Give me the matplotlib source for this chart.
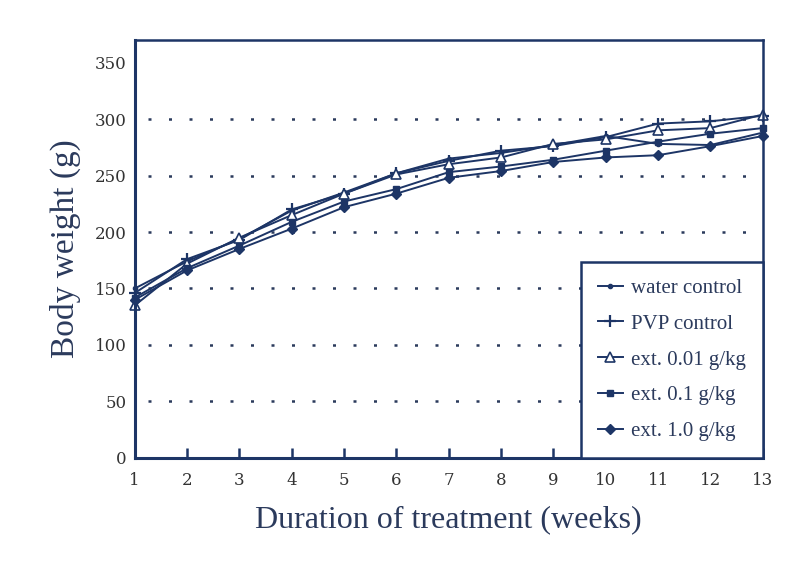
import matplotlib
matplotlib.use("Agg")
import matplotlib.pyplot as plt

weeks = [1, 2, 3, 4, 5, 6, 7, 8, 9, 10, 11, 12, 13]
water_control = [150, 174, 194, 219, 235, 252, 265, 270, 277, 285, 278, 277, 288]
pvp_control = [146, 176, 193, 220, 234, 252, 263, 272, 276, 284, 296, 298, 303]
ext_001 = [135, 172, 195, 215, 234, 251, 260, 266, 278, 282, 290, 292, 304]
ext_01 = [142, 168, 188, 209, 227, 238, 253, 258, 264, 272, 280, 287, 292]
ext_10 = [140, 166, 185, 203, 222, 234, 248, 254, 262, 266, 268, 276, 285]

series_labels = ["water control", "PVP control", "ext. 0.01 g/kg",
                 "ext. 0.1 g/kg", "ext. 1.0 g/kg"]
y_ticks = [0, 50, 100, 150, 200, 250, 300, 350]
grid_levels = [50, 100, 150, 200, 250, 300]

navy = "#1d3566"
ink = "#2b3a5c"

fig = plt.figure(figsize=(7.88, 5.71), dpi=100)
ax = fig.add_axes([0.171, 0.198, 0.797, 0.732])

styles = [
    dict(marker="o", ms=3, mfc=navy, mec=navy),
    dict(marker="+", ms=9, mew=1.6, mec=navy),
    dict(marker="^", ms=7, mfc="white", mec=navy, mew=1.2),
    dict(marker="s", ms=5, mfc=navy, mec=navy),
    dict(marker="D", ms=5, mfc=navy, mec=navy),
]
all_series = [water_control, pvp_control, ext_001, ext_01, ext_10]
for vals, lab, st in zip(all_series, series_labels, styles):
    ax.plot(weeks, vals, color=navy, lw=1.4, label=lab, clip_on=False, **st)

# dotted reference lines
ax.hlines(grid_levels, 1.25, 12.85, colors=ink, linestyles=(0, (1.2, 7)),
          linewidth=1.8, zorder=0)

ax.set_xlim(1, 13)
ax.set_ylim(0, 370)
ax.set_xticks(weeks)
ax.set_yticks(y_ticks)

for s in ["left", "bottom"]:
    ax.spines[s].set_linewidth(2.2)
    ax.spines[s].set_color(navy)
for s in ["top", "right"]:
    ax.spines[s].set_linewidth(1.8)
    ax.spines[s].set_color(navy)

ax.tick_params(axis="x", direction="in", length=7, width=1.8, color=navy,
               pad=10, labelsize=12, labelcolor="#333333")
ax.tick_params(axis="y", length=0, pad=6, labelsize=12, labelcolor="#333333")
for t in ax.get_xticklabels() + ax.get_yticklabels():
    t.set_fontfamily("DejaVu Serif")

ax.set_xlabel("Duration of treatment (weeks)", fontsize=23, color=ink,
              family="Liberation Serif", labelpad=12)
ax.set_ylabel("Body weight (g)", fontsize=24, color=ink,
              family="Liberation Serif", labelpad=10)

leg = ax.legend(loc="lower right", borderaxespad=0, frameon=True, fancybox=False,
                prop={"family": "Liberation Serif", "size": 15},
                handlelength=1.2, handletextpad=0.4, labelspacing=0.78,
                borderpad=0.8)
leg.get_frame().set_edgecolor(navy)
leg.get_frame().set_linewidth(1.8)
leg.get_frame().set_facecolor("white")
leg.get_frame().set_alpha(1)
leg.set_zorder(5)
for t in leg.get_texts():
    t.set_color(ink)

fig.savefig("out.png", dpi=100, facecolor="white")
